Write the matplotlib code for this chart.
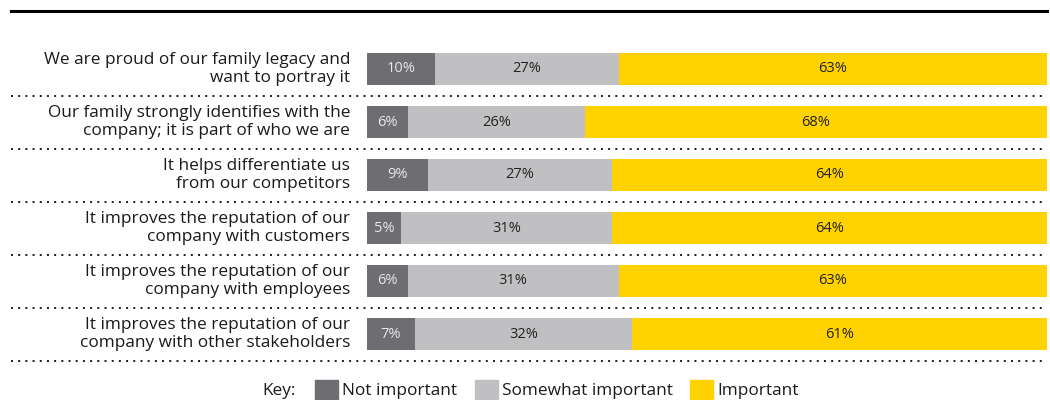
import matplotlib
matplotlib.use('Agg')
import matplotlib.pyplot as plt
from matplotlib.patches import Rectangle
from matplotlib.lines import Line2D
import matplotlib.transforms as mtransforms

plt.rcParams['font.family'] = ['Open Sans', 'DejaVu Sans']

# data
categories = [
    "We are proud of our family legacy and\nwant to portray it",
    "Our family strongly identifies with the\ncompany; it is part of who we are",
    "It helps differentiate us\nfrom our competitors",
    "It improves the reputation of our\ncompany with customers",
    "It improves the reputation of our\ncompany with employees",
    "It improves the reputation of our\ncompany with other stakeholders",
]
not_important = [10, 6, 9, 5, 6, 7]
somewhat_important = [27, 26, 27, 31, 31, 32]
important = [63, 68, 64, 64, 63, 61]
series_names = ["Not important", "Somewhat important", "Important"]
series_colors = ["#6d6d72", "#c0c0c2", "#ffd200"]
label_colors = ["#e8e8e8", "#222222", "#222222"]

W, H = 1050, 400
fig = plt.figure(figsize=(W / 100, H / 100), dpi=100)

# bar area in pixels: x 367..1047, rows centred 69 + 53*i
ax = fig.add_axes([367 / W, 1 - 360.5 / H, 680 / W, 318 / H])
ax.set_xlim(0, 100)
ax.set_ylim(len(categories) - 0.5, -0.5)
ax.axis('off')

ypos = list(range(len(categories)))
left = [0] * len(categories)
for vals, col, tcol in zip([not_important, somewhat_important, important], series_colors, label_colors):
    ax.barh(ypos, vals, left=left, height=0.6, color=col, edgecolor='none')
    for y, v, l in zip(ypos, vals, left):
        ax.text(l + v / 2, y, f"{v}%", ha='center', va='center', fontsize=10.5, color=tcol)
    left = [a + b for a, b in zip(left, vals)]

trans = mtransforms.blended_transform_factory(ax.transAxes, ax.transData)
x_line0 = (11 - 367) / 680
for y, cat in zip(ypos, categories):
    ax.text((350 - 367) / 680, y, cat, transform=trans, ha='right', va='center',
            fontsize=12.4, color='#1a1a1a', linespacing=1.22)
    ax.plot([x_line0, 1.0], [y + 0.5, y + 0.5], transform=trans, clip_on=False,
            color='#1a1a1a', linewidth=1.4, linestyle=(0, (1, 2.7)))

# top rule
fig.add_artist(Line2D([11 / W, 1047 / W], [1 - 11 / H, 1 - 11 / H], color='black', linewidth=2.2))

# legend / key
ky = 1 - 391 / H
fig.text(296 / W, ky, "Key:", ha='right', va='center', fontsize=12.4, color='#1a1a1a')
key_x = [315, 475, 690]
for kx, name, col in zip(key_x, series_names, series_colors):
    fig.add_artist(Rectangle((kx / W, 1 - 401 / H), 23 / W, 21 / H, color=col, transform=fig.transFigure))
    fig.text((kx + 27) / W, ky, name, ha='left', va='center', fontsize=12.4, color='#1a1a1a')

fig.savefig('out.png', dpi=100)
